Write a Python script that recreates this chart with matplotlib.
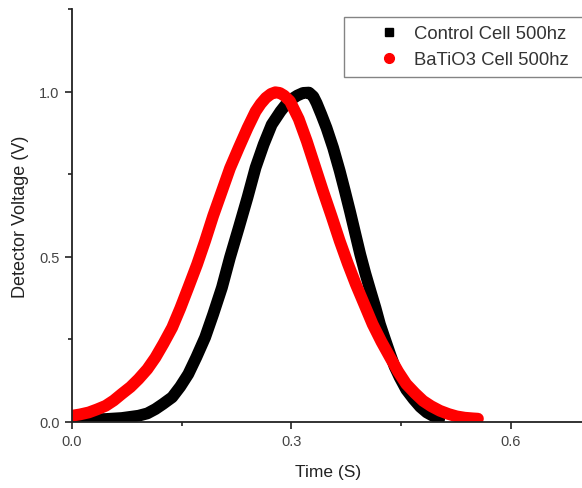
import matplotlib
matplotlib.use("Agg")
import matplotlib.pyplot as plt
from matplotlib.lines import Line2D
from matplotlib.ticker import MultipleLocator, FormatStrFormatter

plt.rcParams['font.family'] = ['Liberation Sans', 'DejaVu Sans']

# Data
control_t = [0.0, 0.023, 0.046, 0.068, 0.091, 0.103, 0.114, 0.124, 0.137, 0.148,
             0.159, 0.17, 0.182, 0.193, 0.205, 0.216, 0.228, 0.24, 0.251, 0.262,
             0.273, 0.285, 0.296, 0.308, 0.316, 0.324, 0.33, 0.3345, 0.341, 0.348,
             0.357, 0.366, 0.373, 0.38, 0.387, 0.394, 0.401, 0.408, 0.415, 0.421,
             0.428, 0.435, 0.441, 0.448, 0.457, 0.467, 0.476, 0.485, 0.494, 0.503,
             0.51]
control_v = [0.008, 0.008, 0.009, 0.012, 0.019, 0.026, 0.039, 0.054, 0.075, 0.107,
             0.145, 0.196, 0.256, 0.326, 0.407, 0.498, 0.588, 0.68, 0.77, 0.84,
             0.90, 0.94, 0.971, 0.988, 0.996, 0.997, 0.985, 0.965, 0.93, 0.89,
             0.83, 0.76, 0.70, 0.638, 0.573, 0.508, 0.45, 0.397, 0.345, 0.296,
             0.25, 0.205, 0.168, 0.135, 0.098, 0.069, 0.046, 0.029, 0.018, 0.011,
             0.008]

batio3_t = [0.0, 0.011, 0.023, 0.034, 0.046, 0.057, 0.068, 0.08, 0.091, 0.103,
            0.114, 0.125, 0.137, 0.148, 0.159, 0.171, 0.182, 0.193, 0.205, 0.216,
            0.228, 0.24, 0.251, 0.258, 0.265, 0.272, 0.278, 0.284, 0.29, 0.298,
            0.31, 0.321, 0.332, 0.343, 0.355, 0.366, 0.377, 0.388, 0.4, 0.411,
            0.423, 0.435, 0.446, 0.457, 0.469, 0.48, 0.491, 0.503, 0.515, 0.526,
            0.537, 0.548, 0.555]
batio3_v = [0.019, 0.023, 0.029, 0.038, 0.049, 0.065, 0.085, 0.106, 0.13, 0.16,
            0.195, 0.237, 0.286, 0.344, 0.407, 0.477, 0.548, 0.624, 0.699, 0.768,
            0.83, 0.89, 0.94, 0.963, 0.981, 0.993, 0.998, 0.996, 0.988, 0.971,
            0.917, 0.85, 0.775, 0.70, 0.622, 0.548, 0.48, 0.417, 0.354, 0.296,
            0.243, 0.195, 0.152, 0.115, 0.087, 0.064, 0.048, 0.034, 0.024, 0.017,
            0.013, 0.011, 0.01]

series_labels = ["Control Cell 500hz", "BaTiO3 Cell 500hz"]
x_label = "Time (S)"
y_label = "Detector Voltage (V)"

fig = plt.figure(figsize=(5.82, 4.89), dpi=100)
ax = fig.add_axes([72/582, 66/489, 512/582, 413/489])

ax.plot(control_t, control_v, color='black', lw=8.5, solid_capstyle='butt',
        solid_joinstyle='round')
ax.plot(batio3_t, batio3_v, color='#ff0000', lw=8.5, solid_capstyle='round',
        solid_joinstyle='round')

ax.set_xlim(0, 0.7)
ax.set_ylim(0, 1.25)
ax.xaxis.set_major_locator(MultipleLocator(0.3))
ax.xaxis.set_minor_locator(MultipleLocator(0.15))
ax.yaxis.set_major_locator(MultipleLocator(0.5))
ax.yaxis.set_minor_locator(MultipleLocator(0.25))
ax.xaxis.set_major_formatter(FormatStrFormatter('%.1f'))
ax.yaxis.set_major_formatter(FormatStrFormatter('%.1f'))

for s in ['top', 'right']:
    ax.spines[s].set_visible(False)
for s in ['left', 'bottom']:
    ax.spines[s].set_linewidth(1.3)
    ax.spines[s].set_color('#222222')

ax.tick_params(which='major', direction='out', length=5, width=1.2,
               labelsize=10.5, labelcolor='#444444', color='#222222', pad=4)
ax.tick_params(which='minor', direction='out', length=3, width=1.2, color='#222222')

ax.set_xlabel(x_label, fontsize=12.5, color='#222222', labelpad=11)
ax.set_ylabel(y_label, fontsize=13, color='#222222', labelpad=7)

handles = [Line2D([], [], ls='none', marker='s', color='black', markersize=6),
           Line2D([], [], ls='none', marker='o', color='#ff0000', markersize=7)]
leg = fig.legend(handles, series_labels, loc='upper left',
                 bbox_to_anchor=(344/582, 0, 0.45, 1 - 18/489), mode='expand',
                 borderaxespad=0, fontsize=13.3, frameon=True, fancybox=False,
                 numpoints=1, handlelength=3.95, handletextpad=-0.6,
                 labelspacing=0.47, borderpad=0.46, labelcolor='#333333')
leg.get_frame().set_edgecolor('#666666')
leg.get_frame().set_linewidth(1.0)

fig.savefig('out.png', dpi=100)
